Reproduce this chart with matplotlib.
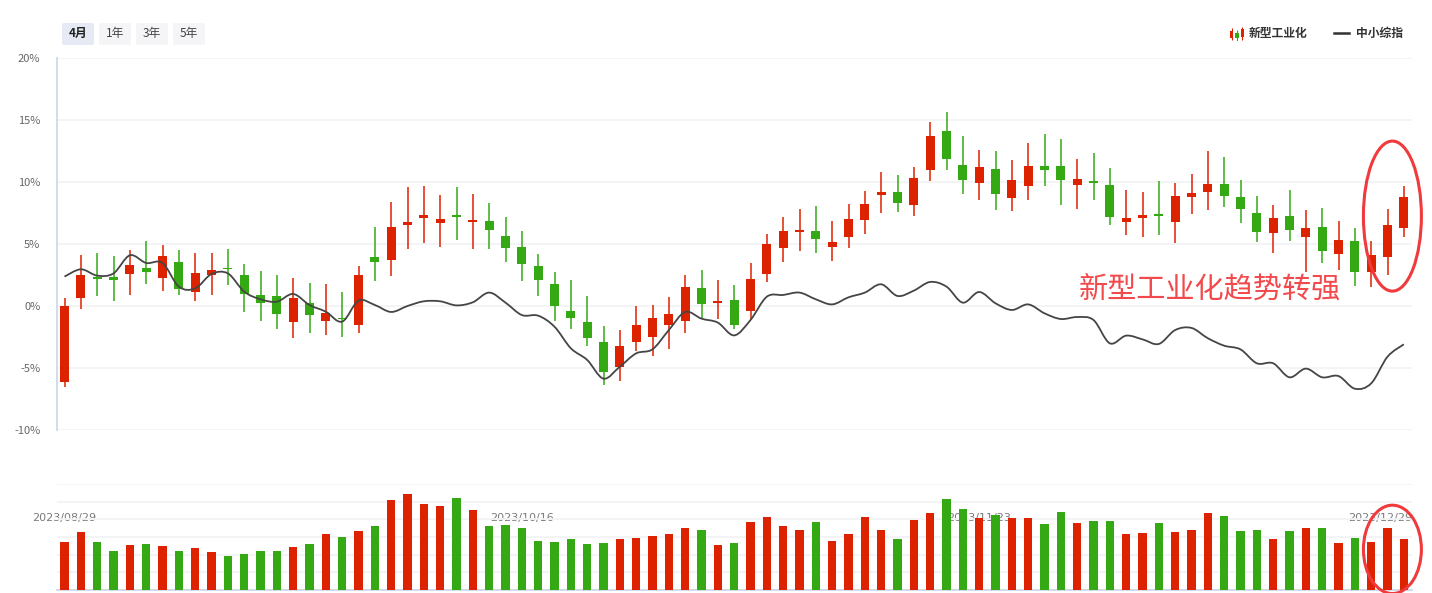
import numpy as np
import matplotlib
matplotlib.use('Agg')
import matplotlib.pyplot as plt
from matplotlib.patches import Ellipse, FancyBboxPatch, PathPatch
from matplotlib.path import Path
from matplotlib.lines import Line2D

plt.rcParams['font.family'] = ['Noto Sans CJK SC', 'DejaVu Sans']

# 新型工业化 candles, % vs start
opens = [-6.1, 0.67, 2.3, 2.3, 2.55, 3.06, 2.28, 3.55, 1.16, 2.53,
         3.05, 2.5, 0.89, 0.81, -1.26, 0.24, -1.18, -0.98, -1.5, 3.95,
         3.74, 6.53, 7.1, 6.69, 7.34, 6.8, 6.85, 5.65, 4.76, 3.23,
         1.77, -0.4, -1.29, -2.9, -4.89, -2.88, -2.47, -1.51, -1.18, 1.45,
         0.27, 0.48, -0.38, 2.6, 4.71, 6.0, 6.05, 4.78, 5.59, 6.96,
         8.98, 9.19, 8.17, 10.99, 14.11, 11.37, 9.95, 11.05, 8.73, 9.7,
         11.29, 11.29, 9.78, 10.08, 9.76, 6.8, 7.12, 7.33, 6.8, 8.82,
         9.22, 9.84, 8.79, 7.5, 5.91, 7.26, 5.59, 6.37, 4.22, 5.24,
         2.77, 3.98, 6.31]
closes = [0.0, 2.5, 2.2, 2.1, 3.3, 2.77, 4.03, 1.4, 2.66, 2.9,
          2.97, 1.0, 0.27, -0.62, 0.65, -0.7, -0.59, -1.06, 2.5, 3.57,
          6.37, 6.77, 7.34, 7.02, 7.18, 6.86, 6.15, 4.71, 3.41, 2.12,
          0.03, -0.94, -2.55, -5.3, -3.23, -1.53, -0.97, -0.65, 1.53, 0.19,
          0.33, -1.51, 2.18, 5.0, 6.05, 6.13, 5.43, 5.16, 7.02, 8.23,
          9.19, 8.33, 10.32, 13.71, 11.88, 10.19, 11.21, 9.06, 10.16, 11.29,
          10.99, 10.19, 10.24, 9.95, 7.2, 7.1, 7.34, 7.28, 8.87, 9.11,
          9.84, 8.9, 7.85, 5.99, 7.1, 6.15, 6.29, 4.46, 5.32, 2.77,
          4.11, 6.53, 8.79]
highs = [0.65, 4.11, 4.27, 4.03, 4.5, 5.24, 4.92, 4.5, 4.27, 4.27,
         4.6, 3.39, 2.82, 2.5, 2.26, 1.85, 1.77, 1.13, 3.23, 6.37,
         8.39, 9.6, 9.68, 8.95, 9.6, 9.03, 8.3, 7.18, 6.05, 4.19,
         2.74, 2.1, 0.81, -1.61, -1.94, 0.0, 0.08, 0.73, 2.5, 2.9,
         2.1, 1.69, 3.47, 5.8, 7.18, 7.82, 8.06, 6.85, 8.23, 9.27,
         10.8, 10.56, 11.21, 14.84, 15.65, 13.71, 12.58, 12.5, 11.77, 13.15,
         13.87, 13.47, 11.85, 12.34, 11.13, 9.35, 9.19, 10.08, 9.92, 10.65,
         12.5, 12.02, 10.16, 8.87, 8.15, 9.35, 7.74, 7.9, 6.85, 6.29,
         5.24, 7.82, 9.68]
lows = [-6.5, -0.24, 0.83, 0.43, 0.91, 1.8, 1.24, 0.91, 0.43, 0.91,
        1.72, -0.46, -1.18, -1.83, -2.55, -2.15, -2.31, -2.47, -2.15, 2.02,
        2.45, 4.62, 5.11, 4.78, 5.35, 4.62, 4.62, 3.57, 2.04, 0.83,
        -1.18, -1.83, -3.2, -6.34, -6.02, -3.6, -4.0, -3.44, -2.15, -1.08,
        -1.02, -1.83, -1.02, 1.94, 3.57, 4.46, 4.3, 3.66, 4.71, 5.83,
        7.53, 7.61, 7.28, 10.1, 10.99, 9.06, 8.57, 7.77, 7.69, 8.57,
        9.7, 8.17, 7.85, 8.57, 6.56, 5.75, 5.59, 5.75, 5.11, 7.44,
        7.77, 8.01, 6.72, 5.19, 4.3, 5.27, 2.77, 3.49, 2.93, 1.64,
        1.56, 2.53, 5.59]
# 中小综指, % vs start
index_line = [2.37, 2.96, 2.45, 2.63, 4.09, 3.47, 3.47, 1.56, 1.42, 2.58,
              2.63, 1.16, 0.54, 0.35, 0.97, 0.08, -0.46, -1.26, 0.43, 0.08,
              -0.48, 0.0, 0.38, 0.38, 0.05, 0.3, 1.08, 0.27, -0.73, -0.78,
              -1.67, -3.41, -4.35, -5.86, -4.89, -3.82, -3.49, -1.94, -0.48, -1.02,
              -1.34, -2.37, -1.13, 0.75, 0.89, 1.08, 0.54, 0.13, 0.7, 1.08,
              1.75, 0.81, 1.24, 1.94, 1.56, 0.27, 1.13, 0.22, -0.32, 0.13,
              -0.59, -1.05, -0.89, -1.13, -3.01, -2.39, -2.69, -3.06, -1.94, -1.77,
              -2.6, -3.2, -3.5, -4.62, -4.62, -5.75, -5.05, -5.75, -5.65, -6.67,
              -6.24, -4.09, -3.09]
volumes = [2.71, 3.28, 2.71, 2.20, 2.54, 2.60, 2.49, 2.20, 2.37, 2.15,
           1.92, 2.03, 2.20, 2.20, 2.43, 2.60, 3.16, 2.99, 3.33, 3.62,
           5.08, 5.42, 4.86, 4.75, 5.20, 4.52, 3.62, 3.67, 3.50, 2.77,
           2.71, 2.88, 2.60, 2.66, 2.88, 2.94, 3.05, 3.16, 3.50, 3.39,
           2.54, 2.66, 3.84, 4.12, 3.62, 3.39, 3.84, 2.77, 3.16, 4.12,
           3.39, 2.88, 3.95, 4.35, 5.14, 4.58, 4.07, 4.24, 4.07, 4.07,
           3.73, 4.41, 3.79, 3.90, 3.90, 3.16, 3.22, 3.79, 3.28, 3.39,
           4.35, 4.18, 3.33, 3.39, 2.88, 3.33, 3.50, 3.50, 2.66, 2.94,
           2.71, 3.50, 2.88]
date_idx = [0, 28, 56, 82]
date_labels = ['2023/08/29', '2023/10/16', '2023/11/23', '2023/12/29']
yticks = [-10, -5, 0, 5, 10, 15, 20]
buttons = ['4月', '1年', '3年', '5年']

RED = '#dd2200'
GREEN = '#34a914'
GRID = '#f1f3f6'
AXIS = '#c9d5ea'

W, H = 1432, 593


def fx(px):
    return px / W


def fy(py):
    return 1 - py / H


def smooth_path(xs, ys, k=1 / 6):
    # cubic bezier through every point (catmull-rom style), like a smooth line series
    pts = np.column_stack([xs, ys]).astype(float)
    verts = [pts[0]]
    codes = [Path.MOVETO]
    m = len(pts)
    for i in range(m - 1):
        p0 = pts[max(i - 1, 0)]
        p1 = pts[i]
        p2 = pts[i + 1]
        p3 = pts[min(i + 2, m - 1)]
        c1 = p1 + (p2 - p0) * k
        c2 = p2 - (p3 - p1) * k
        verts += [c1, c2, p2]
        codes += [Path.CURVE4] * 3
    return Path(verts, codes)


opens = np.array(opens)
closes = np.array(closes)
highs = np.array(highs)
lows = np.array(lows)
n = len(opens)
x = np.arange(n)
colors = [RED if c >= o else GREEN for o, c in zip(opens, closes)]

fig = plt.figure(figsize=(W / 100, H / 100), dpi=100)
fig.patch.set_facecolor('white')

ax = fig.add_axes([fx(57), fy(430), fx(1412) - fx(57), fy(58) - fy(430)])
axv = fig.add_axes([fx(57), fy(590), fx(1412) - fx(57), fy(484) - fy(590)])

# candles
body_bot = np.minimum(opens, closes)
body_h = np.maximum(np.abs(closes - opens), 0.12)
ax.vlines(x, lows, highs, colors=colors, lw=1.1, zorder=3)
ax.bar(x, body_h, bottom=body_bot, width=0.56, color=colors, zorder=4)
ax.add_patch(PathPatch(smooth_path(x, index_line), fill=False,
                       ec='#454545', lw=1.3, zorder=5))

ax.set_xlim(-0.46, 82.5)
ax.set_ylim(-10, 20)
ax.set_yticks(yticks)
ax.set_yticklabels([f'{v}%' for v in yticks])
ax.set_xticks([])
ax.tick_params(axis='y', length=0, labelsize=8, colors='#666666', pad=12)
ax.grid(axis='y', color=GRID, lw=1.3, zorder=0)
for s in ['top', 'right', 'bottom']:
    ax.spines[s].set_visible(False)
ax.spines['left'].set_color(AXIS)
ax.spines['left'].set_linewidth(1.2)

ax.text(62.1, 1.3, '新型工业化趋势转强', fontsize=21, color='#f24a4c',
        va='center', ha='left', zorder=6)
ax.add_patch(Ellipse((81.3, 7.25), 3.55, 12.1, fill=False, ec='#f03a3c',
                     lw=2.2, zorder=7, clip_on=False))

# volume
axv.bar(x, volumes, width=0.5, color=colors, zorder=3)
axv.set_xlim(-0.46, 82.5)
axv.set_ylim(0, 6)
axv.set_yticks(range(0, 7))
axv.set_yticklabels([])
axv.set_xticks([])
axv.tick_params(length=0)
axv.grid(axis='y', color=GRID, lw=1.3, zorder=0)
for s in ['top', 'right', 'left']:
    axv.spines[s].set_visible(False)
axv.spines['bottom'].set_color(AXIS)
axv.spines['bottom'].set_linewidth(1.2)
for i, lab in zip(date_idx, date_labels):
    ha = 'right' if i == n - 1 else 'center'
    xx = 82.5 if i == n - 1 else i
    axv.text(xx, 4.07, lab, ha=ha, va='center', fontsize=8,
             color='#7a7a7a', zorder=1, family='DejaVu Sans')
axv.add_patch(Ellipse((81.3, 2.3), 3.55, 5.0, fill=False, ec='#f03a3c',
                      lw=2.2, zorder=7, clip_on=False))

# range buttons
bx = [62, 99, 136, 173]
for i, (b, lab) in enumerate(zip(bx, buttons)):
    fc = '#e5eaf5' if i == 0 else '#f5f5f7'
    fig.add_artist(FancyBboxPatch((fx(b), fy(45)), 32 / W, 22 / H,
                                  boxstyle='round,pad=0,rounding_size=0.002',
                                  transform=fig.transFigure, fc=fc, ec='none'))
    fig.text(fx(b + 16), fy(33), lab, ha='center', va='center', fontsize=8.5,
             color='#222222' if i == 0 else '#444444',
             fontweight='bold' if i == 0 else 'normal')

# legend
lax = fig.add_axes([fx(1229), fy(41), 16 / W, 14 / H])
lax.set_xlim(0, 3)
lax.set_ylim(0, 1)
lax.axis('off')
lax.vlines([0.5, 1.5, 2.5], [0.05, 0.0, 0.1], [0.95, 0.8, 1.0],
           colors=[RED, GREEN, RED], lw=0.8)
lax.bar([0.5, 1.5, 2.5], [0.5, 0.4, 0.55], bottom=[0.25, 0.2, 0.3],
        width=0.65, color=[RED, GREEN, RED])
fig.text(fx(1249), fy(33), '新型工业化', fontsize=8.5, fontweight='bold',
         color='#333333', va='center', ha='left')
fig.add_artist(Line2D([fx(1334), fx(1349)], [fy(33), fy(33)],
                      transform=fig.transFigure, color='#333333', lw=1.8))
fig.text(fx(1356), fy(33), '中小综指', fontsize=8.5, fontweight='bold',
         color='#333333', va='center', ha='left')

fig.savefig('out.png', dpi=100)
